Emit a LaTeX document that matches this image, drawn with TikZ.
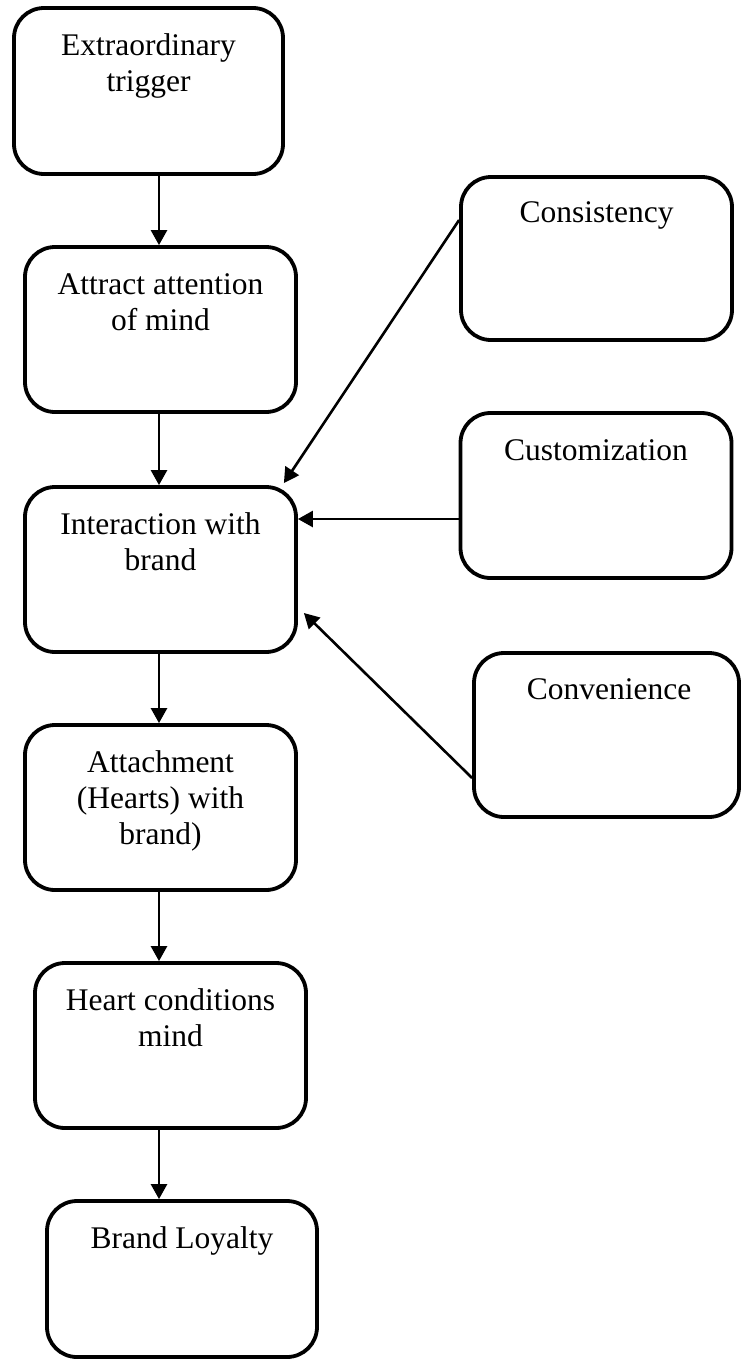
\documentclass[tikz,border=0pt]{standalone}
\usepackage{fontspec}
\setmainfont{Liberation Serif}
\usetikzlibrary{arrows.meta}
\newcommand\boxlines[1]{\begin{tabular}[t]{@{}c@{}}#1\end{tabular}}
\begin{document}
\begin{tikzpicture}[x=1pt,y=-1pt,
  box/.style={draw, line width=3.8pt, rounded corners=30pt, minimum width=271pt, minimum height=165pt, inner sep=0pt},
  txt/.style={anchor=base, inner sep=0pt, font=\fontsize{31.5}{36}\selectfont},
  arr/.style={line width=2.6pt, -{Triangle[length=15pt,width=16pt]}}]
\useasboundingbox (0,0) rectangle (740,1360);
% left column
\node[box, minimum width=269pt, minimum height=166pt] (b1) at (148.5,91) {};
\node[box] (b2) at (160.5,329.5) {};
\node[box] (b3) at (160.5,569.5) {};
\node[box] (b4) at (160.5,807.5) {};
\node[box] (b5) at (170.5,1045.5) {};
\node[box, minimum width=270pt, minimum height=156pt] (b6) at (182,1279) {};
% right column
\node[box, minimum height=163pt] (c1) at (596.5,258.5) {};
\node[box] (c2) at (596,495.5) {};
\node[box, minimum width=265pt, minimum height=164pt] (c3) at (606.5,735) {};
% texts
\node[txt] (t1) at ([yshift=-49pt]b1.north) {\boxlines{Extraordinary\\trigger}};
\node[txt] (t2) at ([yshift=-49pt]b2.north) {\boxlines{Attract attention\\of mind}};
\node[txt] (t3) at ([yshift=-49pt]b3.north) {\boxlines{Interaction with\\brand}};
\node[txt] (t4) at ([yshift=-49pt]b4.north) {\boxlines{Attachment\\(Hearts) with\\brand)}};
\node[txt] (t5) at ([yshift=-49pt]b5.north) {\boxlines{Heart conditions\\mind}};
\node[txt] (t6) at ([yshift=-49pt]b6.north) {Brand Loyalty};
\node[txt] (u1) at ([yshift=-47pt]c1.north) {Consistency};
\node[txt] (u2) at ([yshift=-49pt]c2.north) {Customization};
\node[txt] (u3) at ([xshift=2.5pt,yshift=-48pt]c3.north) {Convenience};
% vertical flow
\coordinate (axis) at (159,0);
\draw[arr] (b1.south -| axis) -- (b2.north -| axis);
\draw[arr] (b2.south -| axis) -- (b3.north -| axis);
\draw[arr] (b3.south -| axis) -- (b4.north -| axis);
\draw[arr] (b4.south -| axis) -- (b5.north -| axis);
\draw[arr] (b5.south -| axis) -- (b6.north -| axis);
% side inputs
\draw[arr] ([yshift=38.5pt]c1.west) -- ([shift={(-14pt,2pt)}]b3.north east);
\coordinate (cw) at ([yshift=-23.5pt]c2.west);
\draw[arr] (cw) -- (cw -| b3.east);
\draw[arr] ([yshift=-43pt]c3.west) -- ([shift={(6pt,-43.5pt)}]b3.east);
\end{tikzpicture}
\end{document}
